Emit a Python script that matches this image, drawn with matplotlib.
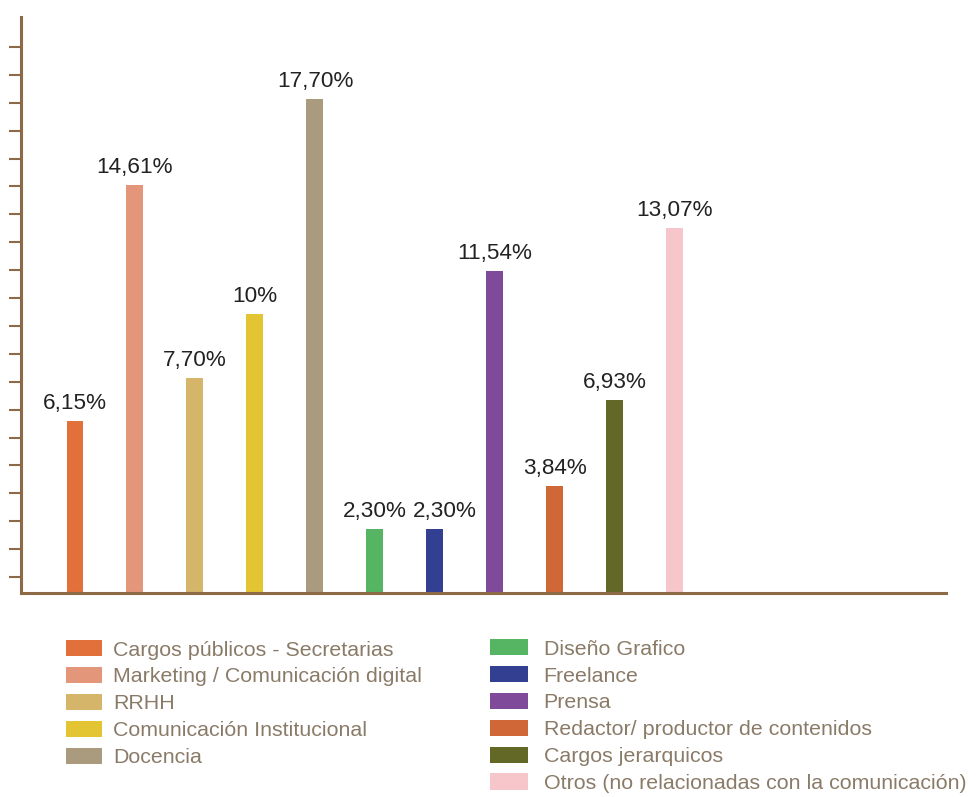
import matplotlib
matplotlib.use("Agg")
import matplotlib.pyplot as plt
from matplotlib.patches import Patch

plt.rcParams['font.family'] = ['Liberation Sans', 'DejaVu Sans']

# Ocupaciones y porcentajes
categorias = [
    "Cargos públicos - Secretarias",
    "Marketing / Comunicación digital",
    "RRHH",
    "Comunicación Institucional",
    "Docencia",
    "Diseño Grafico",
    "Freelance",
    "Prensa",
    "Redactor/ productor de contenidos",
    "Cargos jerarquicos",
    "Otros (no relacionadas con la comunicación)",
]
porcentajes = [6.15, 14.61, 7.70, 10.0, 17.70, 2.30, 2.30, 11.54, 3.84, 6.93, 13.07]
etiquetas = ["6,15%", "14,61%", "7,70%", "10%", "17,70%", "2,30%", "2,30%",
             "11,54%", "3,84%", "6,93%", "13,07%"]
colores = ["#E2703A", "#E4967A", "#D4B56A", "#E3C433", "#AA9B7F", "#55B563",
           "#333F91", "#7F4A99", "#CF6836", "#646826", "#F6C6CA"]

EJE = "#8B6A45"
TEXTO_LEYENDA = "#8A7B68"

fig = plt.figure(figsize=(9.76, 7.97), dpi=100)
ax = fig.add_axes([0.02152, 0.2560, 0.9478, 0.7227])

pos = list(range(len(porcentajes)))
ax.bar(pos, porcentajes, width=0.283, color=colores, zorder=2)

textos = []
for x, v, t in zip(pos, porcentajes, etiquetas):
    textos.append(ax.annotate(t, (x, v), xytext=(0, 5), textcoords="offset points",
                              ha="center", va="bottom", fontsize=16.2, color="#222222"))

ax.set_xlim(-0.9, 14.52)
ax.set_ylim(0, 20.645)

for s in ("top", "right"):
    ax.spines[s].set_visible(False)
for s in ("left", "bottom"):
    ax.spines[s].set_color(EJE)
    ax.spines[s].set_linewidth(2.2)

ax.set_xticks([])
ax.set_yticks([k + 0.57 for k in range(20)])
ax.set_yticklabels([])
ax.tick_params(axis="y", direction="out", length=8.6, width=1.5, color=EJE)

# separar etiquetas vecinas que se pisan
fig.canvas.draw()
renderer = fig.canvas.get_renderer()
for prev, cur in zip(textos[:-1], textos[1:]):
    b0 = prev.get_window_extent(renderer)
    b1 = cur.get_window_extent(renderer)
    if b1.x0 < b0.x1 and b1.y0 < b0.y1 and b0.y0 < b1.y1:
        dx = (b0.x1 - b1.x0 + 6) * 72 / fig.dpi
        ox, oy = cur.xyann
        cur.xyann = (ox + dx, oy)

handles = [Patch(facecolor=c, edgecolor="none") for c in colores]

common = dict(frameon=False, loc="upper left", fontsize=15.4, labelcolor=TEXTO_LEYENDA,
              handleheight=0.8, labelspacing=0.34, borderpad=0, borderaxespad=0)

leg1 = fig.legend(handles[:5], categorias[:5], handlelength=1.68, handletextpad=0.52,
                  bbox_to_anchor=(65.7 / 976, 1 - 640 / 797), **common)
leg2 = fig.legend(handles[5:], categorias[5:], handlelength=1.77, handletextpad=0.74,
                  bbox_to_anchor=(490 / 976, 1 - 639 / 797), **common)

fig.savefig("out.png", dpi=100)
